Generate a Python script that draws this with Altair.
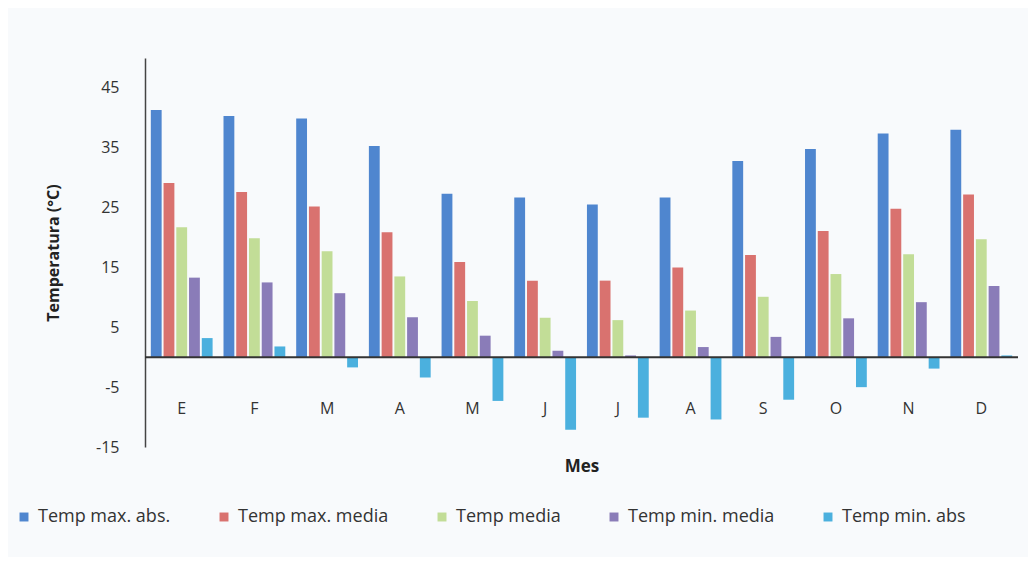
import altair as alt
import pandas as pd

meses = ["E", "F", "M", "A", "M", "J", "J", "A", "S", "O", "N", "D"]
series = ["Temp max. abs.", "Temp max. media", "Temp media", "Temp min. media", "Temp min. abs"]
max_abs = [41.3, 40.3, 39.9, 35.3, 27.3, 26.7, 25.5, 26.7, 32.8, 34.8, 37.4, 38.0]
max_media = [29.1, 27.6, 25.2, 20.9, 15.9, 12.8, 12.8, 15.0, 17.1, 21.1, 24.8, 27.2]
media = [21.7, 19.9, 17.7, 13.5, 9.4, 6.6, 6.2, 7.8, 10.1, 13.9, 17.2, 19.7]
min_media = [13.3, 12.5, 10.7, 6.7, 3.6, 1.1, 0.3, 1.7, 3.4, 6.5, 9.2, 11.9]
min_abs = [3.2, 1.8, -1.7, -3.4, -7.3, -12.1, -10.1, -10.4, -7.1, -5.0, -1.9, 0.3]
y_ticks = [-15, -5, 5, 15, 25, 35, 45]
colores = ["#4f86cf", "#d9726f", "#c2dd97", "#8a7cb8", "#4bb0de"]

valores = [max_abs, max_media, media, min_media, min_abs]
rows = []
for s, vals in zip(series, valores):
    for i, v in enumerate(vals):
        rows.append({"idx": i, "serie": s, "valor": v})
df = pd.DataFrame(rows)

label_expr = "[" + ",".join("'%s'" % m for m in meses) + "][datum.value]"

FONT = "Open Sans"

bars = alt.Chart(df).mark_bar().encode(
    x=alt.X(
        "idx:O",
        scale=alt.Scale(paddingInner=0.15, paddingOuter=0.08),
        axis=alt.Axis(
            labelExpr=label_expr,
            labelAngle=0,
            orient="bottom",
            offset=-47,
            domain=False,
            ticks=False,
            labelPadding=0,
            labelFontSize=16,
            labelColor="#333333",
            labelFont=FONT,
            title="Mes",
            titleFont=FONT,
            titleFontSize=17,
            titleFontWeight="bold",
            titleColor="#222222",
            titlePadding=42,
        ),
    ),
    xOffset=alt.XOffset("serie:N", sort=series, scale=alt.Scale(paddingInner=0.15)),
    y=alt.Y(
        "valor:Q",
        scale=alt.Scale(domain=[-15, 50], nice=False, zero=False),
        axis=alt.Axis(
            values=y_ticks,
            labelExpr="datum.value + ''",
            grid=False,
            ticks=False,
            domainColor="#444444",
            domainWidth=1.5,
            labelPadding=26,
            labelFontSize=16,
            labelColor="#333333",
            labelFont=FONT,
            title="Temperatura (°C)",
            titleFont=FONT,
            titleFontSize=16,
            titleFontWeight="bold",
            titleColor="#222222",
            titlePadding=34,
        ),
    ),
    color=alt.Color(
        "serie:N",
        sort=series,
        scale=alt.Scale(domain=series, range=colores),
        legend=alt.Legend(
            title=None,
            orient="none",
            direction="horizontal",
            legendX=-130,
            legendY=450,
            symbolType="square",
            symbolSize=80,
            symbolStrokeWidth=0,
            labelFontSize=18,
            labelFont=FONT,
            labelColor="#333333",
            columnPadding=44,
            labelOffset=5,
        ),
    ),
)

zero = alt.Chart(pd.DataFrame({"v": [0]})).mark_rule(color="#333333", strokeWidth=2).encode(
    y=alt.Y("v:Q")
)

chart = alt.layer(bars, zero).properties(
    width=873,
    height=389,
    autosize=alt.AutoSizeParams(type="none"),
    padding={"left": 137, "top": 50, "right": 10, "bottom": 110},
    background="#f8fafc",
).configure_view(stroke=None)

chart.save("out.html", embed_options={"renderer": "svg", "actions": False})
